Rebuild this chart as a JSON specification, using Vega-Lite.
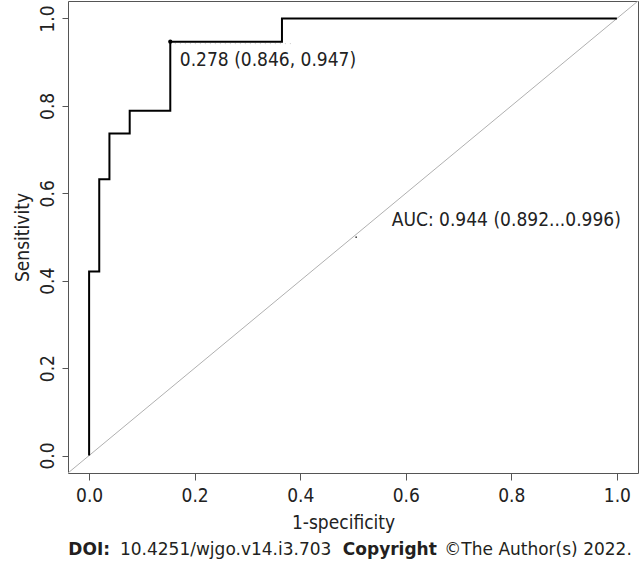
{
  "$schema": "https://vega.github.io/schema/vega-lite/v6.json",
  "width": 570,
  "height": 472,
  "autosize": {"type": "none"},
  "padding": {"left": 68, "top": 1, "right": 1, "bottom": 93},
  "background": "white",
  "config": {
    "view": {"stroke": "#555555", "strokeWidth": 1},
    "font": "DejaVu Sans Condensed",
    "axis": {
      "grid": false,
      "domain": false,
      "tickColor": "#555555",
      "tickSize": 7,
      "labelFont": "DejaVu Sans Condensed",
      "labelFontSize": 19,
      "labelColor": "#222222",
      "titleFont": "DejaVu Sans Condensed",
      "titleFontSize": 19,
      "titleFontWeight": "normal",
      "titleColor": "#222222"
    }
  },
  "datasets": {
    "roc": [
      {"i": 0, "fpr": 0.0, "sens": 0.0},
      {"i": 1, "fpr": 0.0, "sens": 0.421},
      {"i": 2, "fpr": 0.0192, "sens": 0.632},
      {"i": 3, "fpr": 0.0385, "sens": 0.737},
      {"i": 4, "fpr": 0.0769, "sens": 0.789},
      {"i": 5, "fpr": 0.1538, "sens": 0.947},
      {"i": 6, "fpr": 0.3654, "sens": 1.0},
      {"i": 7, "fpr": 1.0, "sens": 1.0}
    ],
    "diag": [{"x": -0.04, "y": -0.04, "x2": 1.04, "y2": 1.04}],
    "best": [{"fpr": 0.1538, "sens": 0.947}],
    "dots": [{"x": 0.153, "y": 0.9425, "x2": 0.3864}],
    "centre": [{"x": 0.506, "y": 0.4995}],
    "labels": [
      {"x": 0.1718, "y": 0.8916, "t": "0.278 (0.846, 0.947)"},
      {"x": 0.5734, "y": 0.5263, "t": "AUC: 0.944 (0.892...0.996)"}
    ],
    "footerBold": [
      {"x": -0.0394, "y": -0.2272, "t": "DOI:"},
      {"x": 0.4807, "y": -0.2272, "t": "Copyright"}
    ],
    "footerPlain": [
      {"x": 0.0584, "y": -0.2272, "t": "10.4251/wjgo.v14.i3.703"},
      {"x": 0.6731, "y": -0.2272, "t": "©The Author(s) 2022."}
    ]
  },
  "layer": [
    {
      "data": {"name": "diag"},
      "mark": {"type": "rule", "color": "#b0b0b0", "strokeWidth": 1, "clip": true},
      "encoding": {
        "x": {"field": "x", "type": "quantitative", "scale": {"domain": [-0.04, 1.04], "nice": false, "zero": false},
              "axis": {"title": "1-specificity", "values": [0, 0.2, 0.4, 0.6, 0.8, 1.0], "format": ".1f", "labelPadding": 6, "titlePadding": 8, "titleX": 275}},
        "y": {"field": "y", "type": "quantitative", "scale": {"domain": [-0.04, 1.04], "nice": false, "zero": false},
              "axis": {"title": "Sensitivity", "values": [0, 0.2, 0.4, 0.6, 0.8, 1.0], "format": ".1f", "labelAngle": 270, "labelAlign": "center", "labelBaseline": "bottom", "labelPadding": 5, "tickSize": 6, "titlePadding": 6}},
        "x2": {"field": "x2"},
        "y2": {"field": "y2"}
      }
    },
    {
      "data": {"name": "dots"},
      "mark": {"type": "rule", "color": "#c8c8c8", "strokeWidth": 1, "strokeDash": [1, 4]},
      "encoding": {
        "x": {"field": "x", "type": "quantitative"},
        "x2": {"field": "x2"},
        "y": {"field": "y", "type": "quantitative"}
      }
    },
    {
      "data": {"name": "roc"},
      "mark": {"type": "line", "interpolate": "step-after", "color": "#000000", "strokeWidth": 2},
      "encoding": {
        "x": {"field": "fpr", "type": "quantitative"},
        "y": {"field": "sens", "type": "quantitative"},
        "order": {"field": "i", "type": "quantitative"}
      }
    },
    {
      "data": {"name": "best"},
      "mark": {"type": "point", "filled": true, "color": "#000000", "size": 18, "opacity": 1},
      "encoding": {
        "x": {"field": "fpr", "type": "quantitative"},
        "y": {"field": "sens", "type": "quantitative"}
      }
    },
    {
      "data": {"name": "centre"},
      "mark": {"type": "point", "filled": true, "color": "#444444", "size": 3, "opacity": 1},
      "encoding": {
        "x": {"field": "x", "type": "quantitative"},
        "y": {"field": "y", "type": "quantitative"}
      }
    },
    {
      "data": {"name": "labels"},
      "mark": {"type": "text", "align": "left", "baseline": "alphabetic", "fontSize": 19, "color": "#222222"},
      "encoding": {
        "x": {"field": "x", "type": "quantitative"},
        "y": {"field": "y", "type": "quantitative"},
        "text": {"field": "t"}
      }
    },
    {
      "data": {"name": "footerBold"},
      "mark": {"type": "text", "align": "left", "baseline": "alphabetic", "font": "DejaVu Sans", "fontSize": 17, "fontWeight": "bold", "color": "#231f20"},
      "encoding": {
        "x": {"field": "x", "type": "quantitative"},
        "y": {"field": "y", "type": "quantitative"},
        "text": {"field": "t"}
      }
    },
    {
      "data": {"name": "footerPlain"},
      "mark": {"type": "text", "align": "left", "baseline": "alphabetic", "font": "DejaVu Sans", "fontSize": 17, "fontWeight": "normal", "color": "#231f20"},
      "encoding": {
        "x": {"field": "x", "type": "quantitative"},
        "y": {"field": "y", "type": "quantitative"},
        "text": {"field": "t"}
      }
    }
  ]
}
